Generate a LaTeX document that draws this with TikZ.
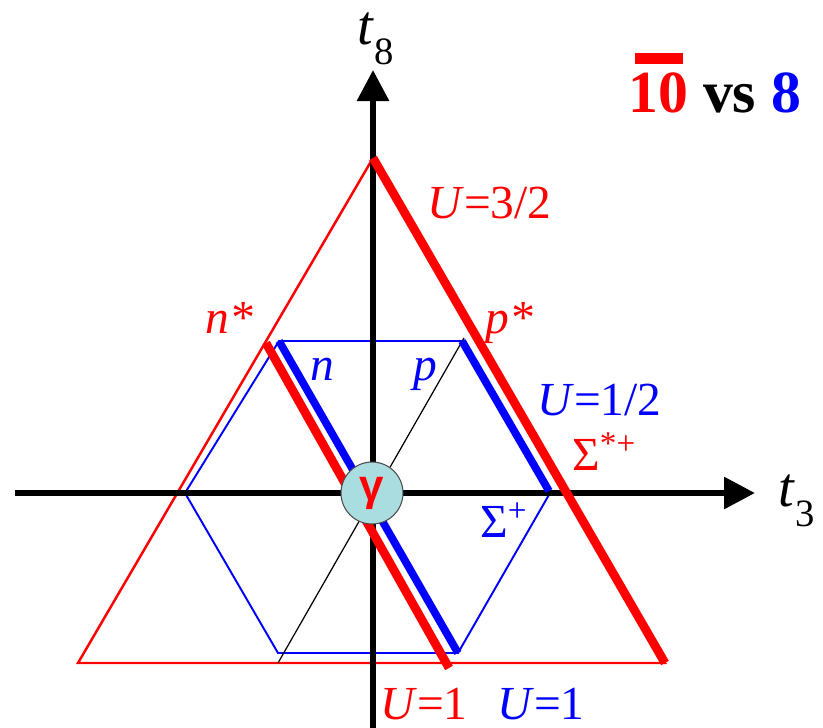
\documentclass[tikz,border=0pt]{standalone}
\usepackage{fontspec}
\setmainfont{Liberation Serif}
\setsansfont{Liberation Sans}
\usetikzlibrary{arrows.meta}
\definecolor{tenc}{RGB}{255,0,0}
\definecolor{octc}{RGB}{0,0,255}
\definecolor{photc}{RGB}{170,221,224}

\begin{document}
\begin{tikzpicture}[x=0.02cm,y=-0.02cm,
    lbl/.style={inner sep=0pt,anchor=base west,font=\fontsize{27}{30}\selectfont},
    axlbl/.style={inner sep=0pt,anchor=base west,font=\fontsize{32}{34}\selectfont},
    axis/.style={line width=3.4pt,-{Triangle[length=0.62cm,width=0.62cm]}},
    thinred/.style={tenc,line width=1.4pt},
    thinblue/.style={octc,line width=1.1pt},
    thickred/.style={tenc,line width=5pt},
    thickblue/.style={octc,line width=4.4pt}]
  \useasboundingbox (0,0) rectangle (823,728);
  % ---- antidecuplet triangle ----
  \coordinate (apex) at (373,158);
  \coordinate (bl) at (78,663);
  \coordinate (br) at (665,663);
  \draw[thinred,line join=miter] (apex) -- (bl) -- (br) -- cycle;
  % ---- octet hexagon ----
  \coordinate (h1) at (279,341);
  \coordinate (h2) at (462,341);
  \coordinate (h3) at (550,493);
  \coordinate (h4) at (458,653);
  \coordinate (h5) at (278,653);
  \coordinate (h6) at (185,493);
  \draw[thinblue] (h1) -- (h2) -- (h3) -- (h4) -- (h5) -- (h6) -- cycle;
  % ---- U-spin diagonal ----
  \draw[black,line width=0.7pt] (278,663) -- (464,338);
  % ---- axes ----
  \coordinate (xs) at (15,493);
  \coordinate (xe) at (755,493);
  \coordinate (ys) at (373,728);
  \coordinate (ye) at (373,70);
  \draw[axis] (xs) -- (xe);
  \draw[axis] (ys) -- (ye);
  \node[axlbl] (t8) at (357,44)
      {\itshape t\/\raisebox{-0.36em}{\upshape\fontsize{22}{24}\selectfont 8}};
  \node[axlbl] (t3) at (778,506)
      {\itshape t\/\raisebox{-0.36em}{\upshape\fontsize{22}{24}\selectfont 3}};
  % ---- U-spin lines ----
  \draw[thickred] (apex) -- (br);
  \draw[thickblue] (h2) -- (549,491);
  \draw[thickblue] (h1) -- (h4);
  \draw[thickred] (266,343) -- (449,668);
  % ---- photon ----
  \node[circle,draw=black!70,line width=0.6pt,fill=photc,minimum size=1.24cm,inner sep=0pt,
        text=tenc,font=\sffamily\bfseries\fontsize{25}{26}\selectfont] (gam) at (372,493) {γ};
  % ---- labels ----
  \node[lbl,text=tenc] (ustar) at (427,218) {\itshape U\/\upshape =3/2};
  \node[lbl,text=tenc] (nstar) at (205,333) {\itshape n*};
  \node[lbl,text=tenc] (pstar) at (485,333) {\itshape p*};
  \node[lbl,text=octc] (nlab) at (310,380) {\itshape n};
  \node[lbl,text=octc] (plab) at (413,380) {\itshape p};
  \node[lbl,text=octc] (uhalf) at (537,415) {\itshape U\/\upshape =1/2};
  \node[lbl,text=tenc] (sigst) at (572,470) {Σ\textsuperscript{*+}};
  \node[lbl,text=octc] (sig) at (480,537) {Σ\textsuperscript{+}};
  \node[lbl,text=tenc] (uonered) at (380,719) {\itshape U\/\upshape =1};
  \node[lbl,text=octc] (uoneblue) at (497,719) {\itshape U\/\upshape =1};
  % ---- title ----
  \node[inner sep=0pt,anchor=base west,font=\bfseries\fontsize{34}{36}\selectfont] (title) at (628,112)
      {\textcolor{tenc}{10} vs \textcolor{octc}{8}};
  \fill[tenc] (635,53) rectangle (683,64);
\end{tikzpicture}
\end{document}
